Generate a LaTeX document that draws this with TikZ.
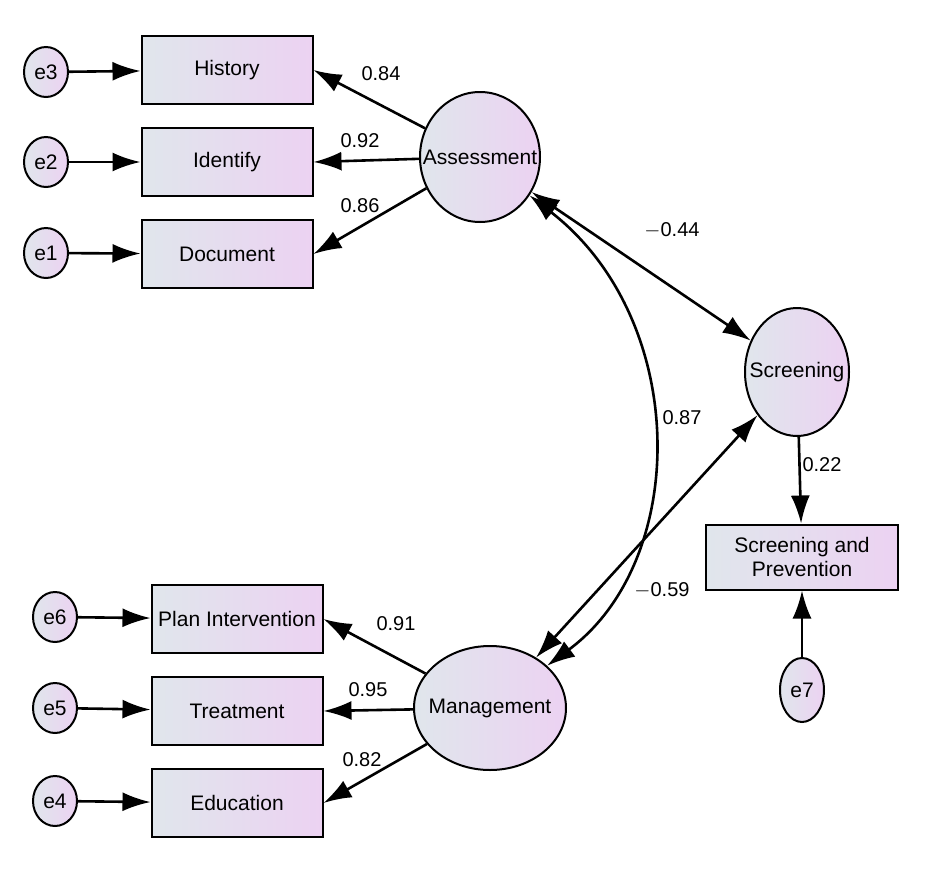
\documentclass[tikz,border=0pt]{standalone}
\usepackage{fontspec}
\setmainfont{Liberation Sans}
\usetikzlibrary{arrows.meta,shapes.geometric}
\definecolor{gl}{RGB}{224,230,236}
\definecolor{gr}{RGB}{236,210,242}
\begin{document}
\begin{tikzpicture}[x=1pt,y=-1pt,
  fnt/.style={font=\fontsize{21}{24}\selectfont},
  shade/.style={left color=gl, right color=gr, draw=black, line width=2pt},
  obs/.style={shade, fnt, rectangle, minimum width=171pt, minimum height=68pt, inner sep=0pt},
  lat/.style={shade, ellipse, inner sep=0pt},
  err/.style={shade, fnt, ellipse, minimum width=44pt, minimum height=50pt, inner sep=0pt},
  ar/.style={line width=2.6pt, -{Latex[length=28pt,width=19pt]}},
  dar/.style={line width=2.6pt, {Latex[length=28pt,width=19pt]}-{Latex[length=28pt,width=19pt]}},
  lab/.style={font=\fontsize{20}{22}\selectfont}]
\useasboundingbox (0,0) rectangle (930,876);
\node[err] (e3) at (46,72) {e3};
\node[err] (e2) at (46,162) {e2};
\node[err] (e1) at (46,253) {e1};
\node[obs] (h) at (227,70) {History};
\node[obs] (i) at (227,162) {Identify};
\node[obs] (d) at (227,254) {Document};
\node[lat, minimum width=120pt, minimum height=130pt] (A) at (480,157) {};
\node[fnt] (At) at (A) {Assessment};
\node[lat, minimum width=104pt, minimum height=128pt] (S) at (797,372) {};
\node[fnt] (St) at (S) {Screening};
\node[obs, minimum width=192pt, minimum height=65pt, align=center] (sp) at (802,557) {Screening and\\Prevention};
\node[err, minimum height=64pt] (e7) at (802,690) {e7};
\node[lat, minimum width=152pt, minimum height=124pt] (M) at (490,708) {};
\node[fnt] (Mt) at (M) {Management};
\node[obs] (p) at (237,619) {Plan Intervention};
\node[obs] (t) at (237,711) {Treatment};
\node[obs] (ed) at (237,803) {Education};
\node[err] (e6) at (55,617) {e6};
\node[err] (e5) at (55,708) {e5};
\node[err] (e4) at (55,801) {e4};
\foreach \a/\b in {e3/h,e2/i,e1/d,e6/p,e5/t,e4/ed,S/sp,e7/sp} \draw[ar] (\a) -- (\b);
\foreach \a/\b in {A/h,A/i,A/d,M/p,M/t,M/ed} \draw[ar] (\a) -- (\b.east);
\draw[dar] (A) -- (S);
\draw[dar] (M) -- (S);
\draw[dar] (A) .. controls (690,320) and (690,560) .. (M);
\node[lab] at (381,74) {0.84};
\node[lab] at (360,141) {0.92};
\node[lab] at (360,206) {0.86};
\node[lab] at (396,624) {0.91};
\node[lab] at (368,690) {0.95};
\node[lab] at (362,760) {0.82};
\node[lab] at (672,230) {$-$0.44};
\node[lab] at (682,418) {0.87};
\node[lab] at (662,590) {$-$0.59};
\node[lab] at (822,465) {0.22};
\end{tikzpicture}
\end{document}
